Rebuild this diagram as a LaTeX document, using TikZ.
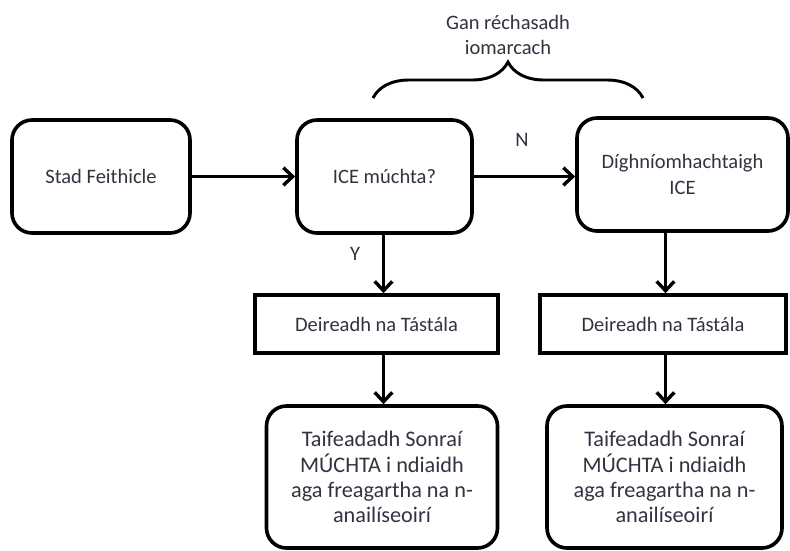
\documentclass[tikz,border=0pt]{standalone}
\usepackage{fontspec}
\setmainfont{Carlito}
\usetikzlibrary{arrows.meta,decorations.pathreplacing}
\definecolor{inkgray}{RGB}{50,50,65}

\begin{document}
\begin{tikzpicture}[x=0.03cm, y=-0.03cm,
                roundbox/.style={draw, line width=3.1pt, rounded corners=0.6cm, align=center,
                    text=inkgray, font=\fontsize{17.5}{22}\selectfont, minimum height=3.39cm},
                flatbox/.style={draw, line width=3.1pt, align=center, text=inkgray,
                    font=\fontsize{17.5}{22}\selectfont, minimum height=1.74cm},
                bigbox/.style={roundbox, font=\fontsize{19}{21.5}\selectfont, minimum height=4.26cm},
                tag/.style={text=inkgray, font=\fontsize{17.5}{22}\selectfont, align=center},
                flow/.style={line width=2.9pt, -{Straight Barb[length=8pt,width=15pt,line width=2.9pt]}}]
                \useasboundingbox (0, 0) rectangle (790, 550);
                \node [roundbox, minimum width=5.34cm] (stad) at (101, 176.5) {Stad Feithicle};
                \node [roundbox, minimum width=5.25cm] (ice) at (384.5, 176.5) {ICE múchta?};
                \node [roundbox, minimum width=6.33cm] (dign) at (682.5, 174.5) {Díghníomhachtaigh\\ICE};
                \node [flatbox, minimum width=7.29cm] (endl) at (376.5, 324) {Deireadh na Tástála};
                \node [flatbox, minimum width=7.38cm] (endr) at (663, 324) {Deireadh na Tástála};
                \node [bigbox, minimum width=6.93cm] (recl) at (382, 477)
                    {Taifeadadh Sonraí\\MÚCHTA i ndiaidh\\aga freagartha na n-\\anailíseoirí};
                \node [bigbox, minimum width=7.05cm] (recr) at (664.5, 477)
                    {Taifeadadh Sonraí\\MÚCHTA i ndiaidh\\aga freagartha na n-\\anailíseoirí};
                \node [tag] (no) at (522, 140) {N};
                \node [tag] (yes) at (355, 254) {Y};
                \node [tag] (note) at (508, 35) {Gan réchasadh\\iomarcach};
                \coordinate (bracel) at (373, 98);
                \coordinate (bracer) at (643, 98);
                \coordinate (downl) at (383.5, 0);
                \coordinate (downr) at (665.5, 0);
                \draw [flow] (stad.east) -- (stad.east -| ice.west);
                \draw [flow] (ice.east) -- (ice.east -| dign.west);
                \draw [flow] (ice.south -| downl) -- (endl.north -| downl);
                \draw [flow] (endl.south -| downl) -- (recl.north -| downl);
                \draw [flow] (dign.south -| downr) -- (endr.north -| downr);
                \draw [flow] (endr.south -| downr) -- (recr.north -| downr);
                \draw [line width=2.5pt, decorate, decoration={brace, amplitude=1.08cm}] (bracel) -- (bracer);
            \end{tikzpicture}
\end{document}
